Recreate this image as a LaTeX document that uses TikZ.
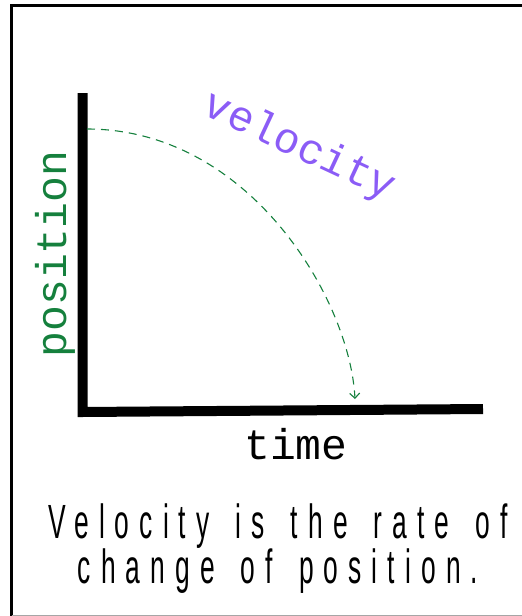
\documentclass[tikz,border=0pt]{standalone}
\usepackage{fontspec}
\setmonofont{Liberation Mono}
\newfontfamily\thinfont[FakeStretch=0.55,LetterSpace=21,WordSpace=1.5]{Liberation Sans}
\usetikzlibrary{arrows.meta}
\definecolor{velpurple}{HTML}{8B5CF6}
\definecolor{posgreen}{HTML}{15803D}

\begin{document}
\begin{tikzpicture}[x=1pt, y=-1pt, lbl/.style={font=\ttfamily\fontsize{43}{43}\selectfont, inner sep=0pt}, captext/.style={font=\thinfont\fontsize{48}{48}\selectfont, inner sep=0pt, anchor=base}]
\useasboundingbox (0,0) rectangle (522,616);
\draw[line width=3pt] (11.5,616) -- (11.5,5.5) -- (522,5.5);
\draw[gray!70, line width=1pt] (11.5,615.5) -- (522,615.5);
\coordinate (ytop) at (82.5,93);
\coordinate (O) at (82.5,412);
\coordinate (xend) at (483,409);
\draw[line width=10pt, line join=miter] (ytop) -- (O) -- (xend);
\coordinate (vstart) at (87,129);
\coordinate (vend) at (355,399);
\draw[posgreen, line width=1.1pt, dash pattern=on 8pt off 6pt, -{Straight Barb[length=5pt,width=10pt]}] (vstart) .. controls (250,129) and (350,300) .. (vend);
\node[lbl] (time) at (296,444) {time};
\node[lbl, text=posgreen, rotate=90] (pos) at (55,254) {position};
\node[lbl, text=velpurple, rotate=-25] (vel) at (299,147) {velocity};
\node[captext] (cap1) at (278,538) {Velocity is the rate of};
\node[captext] (cap2) at (278,583) {change of position.};
\end{tikzpicture}
\end{document}
